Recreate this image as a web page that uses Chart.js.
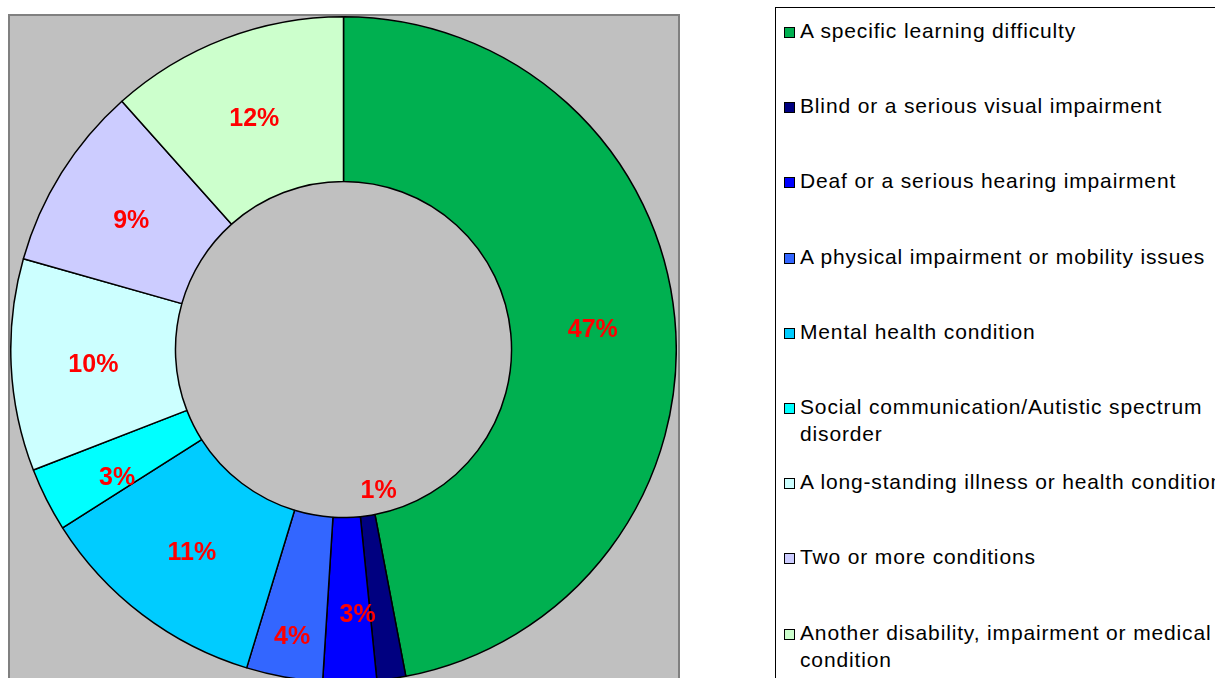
<!DOCTYPE html>
<html>
<head>
<meta charset="utf-8">
<script src="https://cdn.jsdelivr.net/npm/chart.js@4"></script>
<style>
  html, body { margin:0; padding:0; width:1215px; height:678px; overflow:hidden; background:#fff; font-family: Arial, "Liberation Sans", sans-serif; }
  #plotBg { position:absolute; left:8px; top:14px; width:668px; height:700px; background:#C0C0C0; border:2px solid #808080; box-sizing:content-box; }
  #chartBox { position:absolute; left:10px; top:16px; width:667px; height:667px; }
  #legend { position:absolute; left:775px; top:7px; width:600px; height:700px; border-left:1px solid #000; border-top:1px solid #000; }
  .legend-item { position:absolute; left:8px; display:flex; align-items:flex-start; font-size:21px; line-height:27px; letter-spacing:0.85px; color:#000; white-space:pre; }
  .legend-swatch { width:9px; height:9px; border:1px solid #000; margin-top:10px; margin-right:5px; flex:none; }
</style>
</head>
<body>
<div id="plotBg"></div>
<div id="chartBox"><canvas id="donutChart"></canvas></div>
<div id="legend"></div>
<script>
const categories = [
  'A specific learning difficulty',
  'Blind or a serious visual impairment',
  'Deaf or a serious hearing impairment',
  'A physical impairment or mobility issues',
  'Mental health condition',
  'Social communication/Autistic spectrum\ndisorder',
  'A long-standing illness or health condition',
  'Two or more conditions',
  'Another disability, impairment or medical\ncondition'
];
const shares = [47.0, 1.4, 2.6, 3.7, 11.3, 3.1, 10.3, 9.0, 11.6];
const sliceColors = ['#00B050', '#000080', '#0000FF', '#3366FF', '#00CCFF', '#00FFFF', '#CCFFFF', '#CCCCFF', '#CCFFCC'];

// label nudges: [radius px, angle deg] relative to the middle of each ring segment
const labelNudge = [[0,0],[-108,-6],[12,-2],[38,0],[0,0],[8,-2],[0,0],[0,0],[0,0]];

function renderLegend() {
    const box = document.getElementById('legend');
    box.innerHTML = categories.map((c, i) =>
        `<div class="legend-item" style="top:${9 + i * 75.2}px"><span class="legend-swatch" style="background:${sliceColors[i]}"></span><span>${c}</span></div>`
    ).join('');
}

const pctLabels = {
    id: 'pctLabels',
    afterDatasetsDraw(chart) {
        const ctx = chart.ctx;
        const data = chart.data.datasets[0].data;
        const total = data.reduce((a, b) => a + b, 0);
        ctx.save();
        ctx.font = 'bold 25px Arial, "Liberation Sans", sans-serif';
        ctx.fillStyle = '#FF0000';
        ctx.textAlign = 'center';
        ctx.textBaseline = 'middle';
        chart.getDatasetMeta(0).data.forEach((arc, i) => {
            const p = arc.getProps(['x','y','startAngle','endAngle','innerRadius','outerRadius'], true);
            const a = (p.startAngle + p.endAngle) / 2 + labelNudge[i][1] * Math.PI / 180;
            const r = (p.innerRadius + p.outerRadius) / 2 + labelNudge[i][0];
            ctx.fillText(Math.round(data[i] / total * 100) + '%', p.x + Math.cos(a) * r, p.y + Math.sin(a) * r + 4);
        });
        ctx.restore();
    }
};

function renderDonut() {
    const ctx = document.getElementById('donutChart').getContext('2d');
    new Chart(ctx, {
        type: 'doughnut',
        data: {
            labels: categories,
            datasets: [{ data: shares, backgroundColor: sliceColors, borderColor: '#000', borderWidth: 1.5, borderAlign: 'center' }]
        },
        options: {
            responsive: true,
            maintainAspectRatio: false,
            animation: false,
            cutout: '50.5%',
            plugins: { legend: { display: false }, tooltip: { enabled: false } }
        },
        plugins: [pctLabels]
    });
}

renderLegend();
renderDonut();
</script>
</body>
</html>
